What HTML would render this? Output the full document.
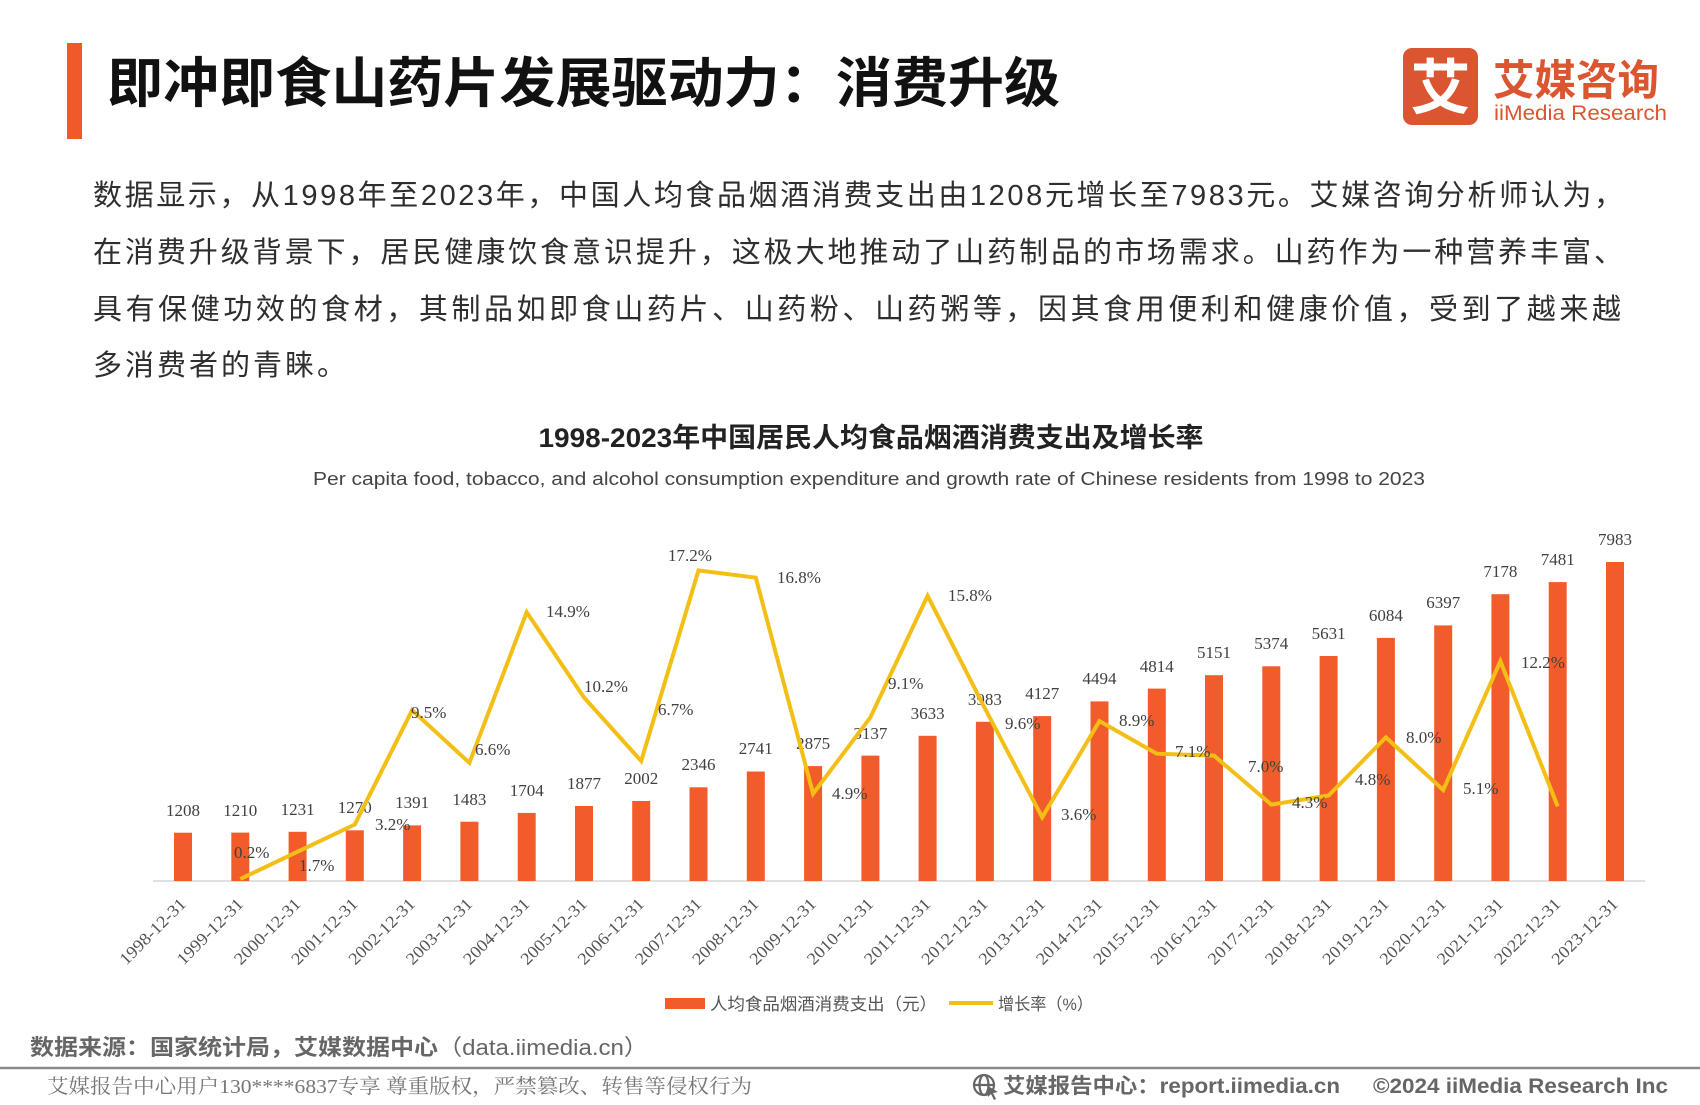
<!DOCTYPE html>
<html>
<head>
<meta charset="utf-8">
<style>
html,body{margin:0;padding:0;background:#fff;}
svg{display:block;}
.cjk{font-family:"Liberation Sans","Noto Sans CJK SC",sans-serif;}
.ser{font-family:"Liberation Serif","Noto Serif CJK SC",serif;}
</style>
</head>
<body>
<svg width="1700" height="1105" viewBox="0 0 1700 1105" xmlns="http://www.w3.org/2000/svg">
<rect x="0" y="0" width="1700" height="1105" fill="#ffffff"/>

<!-- Header -->
<rect x="67" y="43" width="15" height="96" fill="#F05A28"/>
<text class="cjk" x="107" y="102" font-size="54" font-weight="bold" fill="#111" textLength="953" lengthAdjust="spacingAndGlyphs">即冲即食山药片发展驱动力：消费升级</text>

<!-- Logo -->
<rect x="1403" y="48" width="75" height="77" rx="9" ry="9" fill="#DB5630"/>
<text class="cjk" x="1440.5" y="109" font-size="60" font-weight="bold" fill="#fff" text-anchor="middle">艾</text>
<text class="cjk" x="1493" y="95" font-size="42" font-weight="bold" fill="#DB5630" textLength="166" lengthAdjust="spacingAndGlyphs">艾媒咨询</text>
<text class="cjk" x="1494" y="120" font-size="21" fill="#DB5630" textLength="173" lengthAdjust="spacingAndGlyphs">iiMedia Research</text>

<!-- Body text -->
<g class="cjk" font-size="29" fill="#2e2e2e">
<text x="93" y="205" textLength="1530" lengthAdjust="spacing">数据显示，从1998年至2023年，中国人均食品烟酒消费支出由1208元增长至7983元。艾媒咨询分析师认为，</text>
<text x="93" y="262" textLength="1530" lengthAdjust="spacing">在消费升级背景下，居民健康饮食意识提升，这极大地推动了山药制品的市场需求。山药作为一种营养丰富、</text>
<text x="93" y="319" textLength="1528" lengthAdjust="spacing">具有保健功效的食材，其制品如即食山药片、山药粉、山药粥等，因其食用便利和健康价值，受到了越来越</text>
<text x="93" y="375" letter-spacing="3">多消费者的青睐。</text>
</g>

<!-- Chart titles -->
<text class="cjk" x="871" y="447" font-size="27" font-weight="bold" fill="#222" text-anchor="middle" textLength="665" lengthAdjust="spacingAndGlyphs">1998-2023年中国居民人均食品烟酒消费支出及增长率</text>
<text class="cjk" x="869" y="485" font-size="18" fill="#444" text-anchor="middle" textLength="1112" lengthAdjust="spacingAndGlyphs">Per capita food, tobacco, and alcohol consumption expenditure and growth rate of Chinese residents from 1998 to 2023</text>

<!-- Axis line -->
<line x1="153" y1="881" x2="1645" y2="881" stroke="#d6d6d6" stroke-width="1.5"/>

<!-- Bars -->
<g fill="#F25C2B">
<rect x="174.0" y="832.7" width="18" height="48.3"/>
<rect x="231.3" y="832.6" width="18" height="48.4"/>
<rect x="288.6" y="831.8" width="18" height="49.2"/>
<rect x="345.8" y="830.3" width="18" height="50.7"/>
<rect x="403.1" y="825.4" width="18" height="55.6"/>
<rect x="460.4" y="821.7" width="18" height="59.3"/>
<rect x="517.7" y="812.9" width="18" height="68.1"/>
<rect x="575.0" y="806.0" width="18" height="75.0"/>
<rect x="632.2" y="801.0" width="18" height="80.0"/>
<rect x="689.5" y="787.3" width="18" height="93.7"/>
<rect x="746.8" y="771.5" width="18" height="109.5"/>
<rect x="804.1" y="766.1" width="18" height="114.9"/>
<rect x="861.4" y="755.6" width="18" height="125.4"/>
<rect x="918.6" y="735.8" width="18" height="145.2"/>
<rect x="975.9" y="721.8" width="18" height="159.2"/>
<rect x="1033.2" y="716.1" width="18" height="164.9"/>
<rect x="1090.5" y="701.4" width="18" height="179.6"/>
<rect x="1147.8" y="688.6" width="18" height="192.4"/>
<rect x="1205.0" y="675.2" width="18" height="205.8"/>
<rect x="1262.3" y="666.3" width="18" height="214.7"/>
<rect x="1319.6" y="656.0" width="18" height="225.0"/>
<rect x="1376.9" y="637.9" width="18" height="243.1"/>
<rect x="1434.2" y="625.4" width="18" height="255.6"/>
<rect x="1491.4" y="594.2" width="18" height="286.8"/>
<rect x="1548.7" y="582.1" width="18" height="298.9"/>
<rect x="1606.0" y="562.0" width="18" height="319.0"/>
</g>

<!-- Bar value labels -->
<g class="ser" font-size="17" fill="#404040" text-anchor="middle">
<text x="183.0" y="816">1208</text>
<text x="240.3" y="816">1210</text>
<text x="297.6" y="815">1231</text>
<text x="354.8" y="813">1270</text>
<text x="412.1" y="808">1391</text>
<text x="469.4" y="805">1483</text>
<text x="526.7" y="796">1704</text>
<text x="584.0" y="789">1877</text>
<text x="641.2" y="784">2002</text>
<text x="698.5" y="770">2346</text>
<text x="755.8" y="754">2741</text>
<text x="813.1" y="749">2875</text>
<text x="870.4" y="739">3137</text>
<text x="927.6" y="719">3633</text>
<text x="984.9" y="705">3983</text>
<text x="1042.2" y="699">4127</text>
<text x="1099.5" y="684">4494</text>
<text x="1156.8" y="672">4814</text>
<text x="1214.0" y="658">5151</text>
<text x="1271.3" y="649">5374</text>
<text x="1328.6" y="639">5631</text>
<text x="1385.9" y="621">6084</text>
<text x="1443.2" y="608">6397</text>
<text x="1500.4" y="577">7178</text>
<text x="1557.7" y="565">7481</text>
<text x="1615.0" y="545">7983</text>
</g>

<!-- Growth line -->
<polyline fill="none" stroke="#F3BF16" stroke-width="4" stroke-linejoin="miter" stroke-miterlimit="10"
points="240.3,879.0 297.6,851.7 354.8,824.5 412.1,710.2 469.4,762.8 526.7,612.2 584.0,697.5 641.2,761.0 698.5,570.4 755.8,577.7 813.1,793.7 870.4,717.4 927.6,595.8 984.9,708.4 1042.2,817.3 1099.5,721.1 1156.8,753.7 1214.0,755.6 1271.3,804.6 1328.6,795.5 1385.9,737.4 1443.2,790.0 1500.4,661.2 1557.7,806.4"/>

<!-- Percent labels -->
<g class="ser" font-size="17" fill="#404040">
<text x="234" y="858">0.2%</text>
<text x="299" y="871">1.7%</text>
<text x="375" y="830">3.2%</text>
<text x="411" y="718">9.5%</text>
<text x="475" y="755">6.6%</text>
<text x="546" y="617">14.9%</text>
<text x="584" y="692">10.2%</text>
<text x="658" y="715">6.7%</text>
<text x="668" y="561">17.2%</text>
<text x="777" y="583">16.8%</text>
<text x="832" y="799">4.9%</text>
<text x="888" y="689">9.1%</text>
<text x="948" y="601">15.8%</text>
<text x="1005" y="729">9.6%</text>
<text x="1061" y="820">3.6%</text>
<text x="1119" y="726">8.9%</text>
<text x="1175" y="757">7.1%</text>
<text x="1248" y="772">7.0%</text>
<text x="1292" y="808">4.3%</text>
<text x="1355" y="785">4.8%</text>
<text x="1406" y="743">8.0%</text>
<text x="1463" y="794">5.1%</text>
<text x="1521" y="668">12.2%</text>
</g>

<!-- X axis labels -->
<g class="ser" font-size="17" fill="#555" text-anchor="end">
<text transform="translate(187.0,905) rotate(-45)" textLength="86" lengthAdjust="spacingAndGlyphs">1998-12-31</text>
<text transform="translate(244.3,905) rotate(-45)" textLength="86" lengthAdjust="spacingAndGlyphs">1999-12-31</text>
<text transform="translate(301.6,905) rotate(-45)" textLength="86" lengthAdjust="spacingAndGlyphs">2000-12-31</text>
<text transform="translate(358.8,905) rotate(-45)" textLength="86" lengthAdjust="spacingAndGlyphs">2001-12-31</text>
<text transform="translate(416.1,905) rotate(-45)" textLength="86" lengthAdjust="spacingAndGlyphs">2002-12-31</text>
<text transform="translate(473.4,905) rotate(-45)" textLength="86" lengthAdjust="spacingAndGlyphs">2003-12-31</text>
<text transform="translate(530.7,905) rotate(-45)" textLength="86" lengthAdjust="spacingAndGlyphs">2004-12-31</text>
<text transform="translate(588.0,905) rotate(-45)" textLength="86" lengthAdjust="spacingAndGlyphs">2005-12-31</text>
<text transform="translate(645.2,905) rotate(-45)" textLength="86" lengthAdjust="spacingAndGlyphs">2006-12-31</text>
<text transform="translate(702.5,905) rotate(-45)" textLength="86" lengthAdjust="spacingAndGlyphs">2007-12-31</text>
<text transform="translate(759.8,905) rotate(-45)" textLength="86" lengthAdjust="spacingAndGlyphs">2008-12-31</text>
<text transform="translate(817.1,905) rotate(-45)" textLength="86" lengthAdjust="spacingAndGlyphs">2009-12-31</text>
<text transform="translate(874.4,905) rotate(-45)" textLength="86" lengthAdjust="spacingAndGlyphs">2010-12-31</text>
<text transform="translate(931.6,905) rotate(-45)" textLength="86" lengthAdjust="spacingAndGlyphs">2011-12-31</text>
<text transform="translate(988.9,905) rotate(-45)" textLength="86" lengthAdjust="spacingAndGlyphs">2012-12-31</text>
<text transform="translate(1046.2,905) rotate(-45)" textLength="86" lengthAdjust="spacingAndGlyphs">2013-12-31</text>
<text transform="translate(1103.5,905) rotate(-45)" textLength="86" lengthAdjust="spacingAndGlyphs">2014-12-31</text>
<text transform="translate(1160.8,905) rotate(-45)" textLength="86" lengthAdjust="spacingAndGlyphs">2015-12-31</text>
<text transform="translate(1218.0,905) rotate(-45)" textLength="86" lengthAdjust="spacingAndGlyphs">2016-12-31</text>
<text transform="translate(1275.3,905) rotate(-45)" textLength="86" lengthAdjust="spacingAndGlyphs">2017-12-31</text>
<text transform="translate(1332.6,905) rotate(-45)" textLength="86" lengthAdjust="spacingAndGlyphs">2018-12-31</text>
<text transform="translate(1389.9,905) rotate(-45)" textLength="86" lengthAdjust="spacingAndGlyphs">2019-12-31</text>
<text transform="translate(1447.2,905) rotate(-45)" textLength="86" lengthAdjust="spacingAndGlyphs">2020-12-31</text>
<text transform="translate(1504.4,905) rotate(-45)" textLength="86" lengthAdjust="spacingAndGlyphs">2021-12-31</text>
<text transform="translate(1561.7,905) rotate(-45)" textLength="86" lengthAdjust="spacingAndGlyphs">2022-12-31</text>
<text transform="translate(1619.0,905) rotate(-45)" textLength="86" lengthAdjust="spacingAndGlyphs">2023-12-31</text>
</g>

<!-- Legend -->
<rect x="665" y="998" width="40" height="11" fill="#F25C2B"/>
<text class="cjk" x="710" y="1010" font-size="17" fill="#555" textLength="227" lengthAdjust="spacingAndGlyphs">人均食品烟酒消费支出（元）</text>
<line x1="949" y1="1003" x2="993" y2="1003" stroke="#F3BF16" stroke-width="4"/>
<text class="cjk" x="998" y="1010" font-size="17" fill="#555" textLength="95" lengthAdjust="spacingAndGlyphs">增长率（%）</text>

<!-- Source -->
<text class="cjk" x="30" y="1055" font-size="22" font-weight="bold" fill="#666" textLength="408" lengthAdjust="spacingAndGlyphs">数据来源：国家统计局，艾媒数据中心</text>
<text class="cjk" x="438" y="1055" font-size="22" fill="#666" textLength="210" lengthAdjust="spacingAndGlyphs">（data.iimedia.cn）</text>

<!-- Footer -->
<line x1="0" y1="1068" x2="1700" y2="1068" stroke="#8a8a8a" stroke-width="2.5"/>
<text class="ser" x="47" y="1093" font-size="20" fill="#777" textLength="705" lengthAdjust="spacingAndGlyphs">艾媒报告中心用户130****6837专享 尊重版权，严禁篡改、转售等侵权行为</text>

<g fill="none" stroke="#666" stroke-width="2.2">
<circle cx="984" cy="1085" r="10"/>
<ellipse cx="984" cy="1085" rx="4.5" ry="10"/>
<line x1="974" y1="1085" x2="994" y2="1085"/>
</g>
<path d="M988 1086 L998 1092 L993 1093 L996 1099 L994 1100 L991 1094 L988 1097 Z" fill="#666"/>
<text class="cjk" x="1003" y="1093" font-size="21" font-weight="bold" fill="#666" textLength="337" lengthAdjust="spacingAndGlyphs">艾媒报告中心：report.iimedia.cn</text>
<text class="cjk" x="1373" y="1093" font-size="21" font-weight="bold" fill="#666" textLength="295" lengthAdjust="spacingAndGlyphs">©2024 iiMedia Research Inc</text>
</svg>
</body>
</html>
